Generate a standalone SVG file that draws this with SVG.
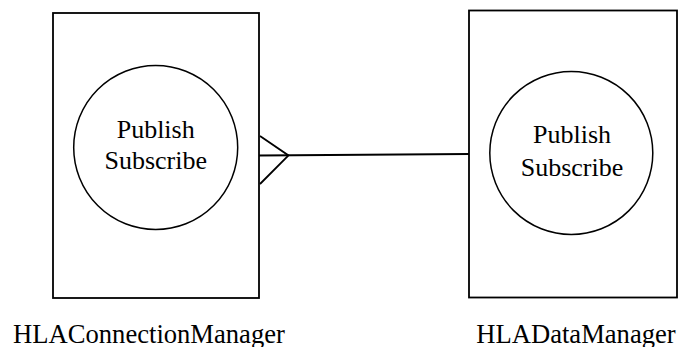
<svg xmlns="http://www.w3.org/2000/svg" width="678" height="347" viewBox="0 0 678 347">
<style>
.box{fill:#fff;stroke:#000;stroke-width:1.8}
.circ{fill:#fff;stroke:#000;stroke-width:1.5}
.ln{fill:none;stroke:#000;stroke-width:1.8}
text{font-family:"Liberation Serif","Times New Roman",serif;font-size:26px;fill:#000;text-anchor:middle}
text.lbl{font-size:26.6px}
</style>
<rect width="678" height="347" fill="#fff"/>
<g id="connectors">
<line class="ln" x1="259" y1="155.5" x2="469" y2="154"/>
<polyline class="ln" points="260,136 288.5,155.5 260,184"/>
</g>
<g id="HLAConnectionManager">
<rect class="box" x="53" y="13" width="206" height="285"/>
<circle class="circ" cx="155.7" cy="147.5" r="82"/>
<text x="155.7" y="137.7">Publish</text>
<text x="155.7" y="169.3">Subscribe</text>
<text class="lbl" x="149" y="342.5">HLAConnectionManager</text>
</g>
<g id="HLADataManager">
<rect class="box" x="469" y="10.5" width="208" height="287"/>
<circle class="circ" cx="571.3" cy="153" r="81.5"/>
<text x="572" y="143.3">Publish</text>
<text x="572" y="175.7">Subscribe</text>
<text class="lbl" x="576" y="342.5">HLADataManager</text>
</g>
</svg>
